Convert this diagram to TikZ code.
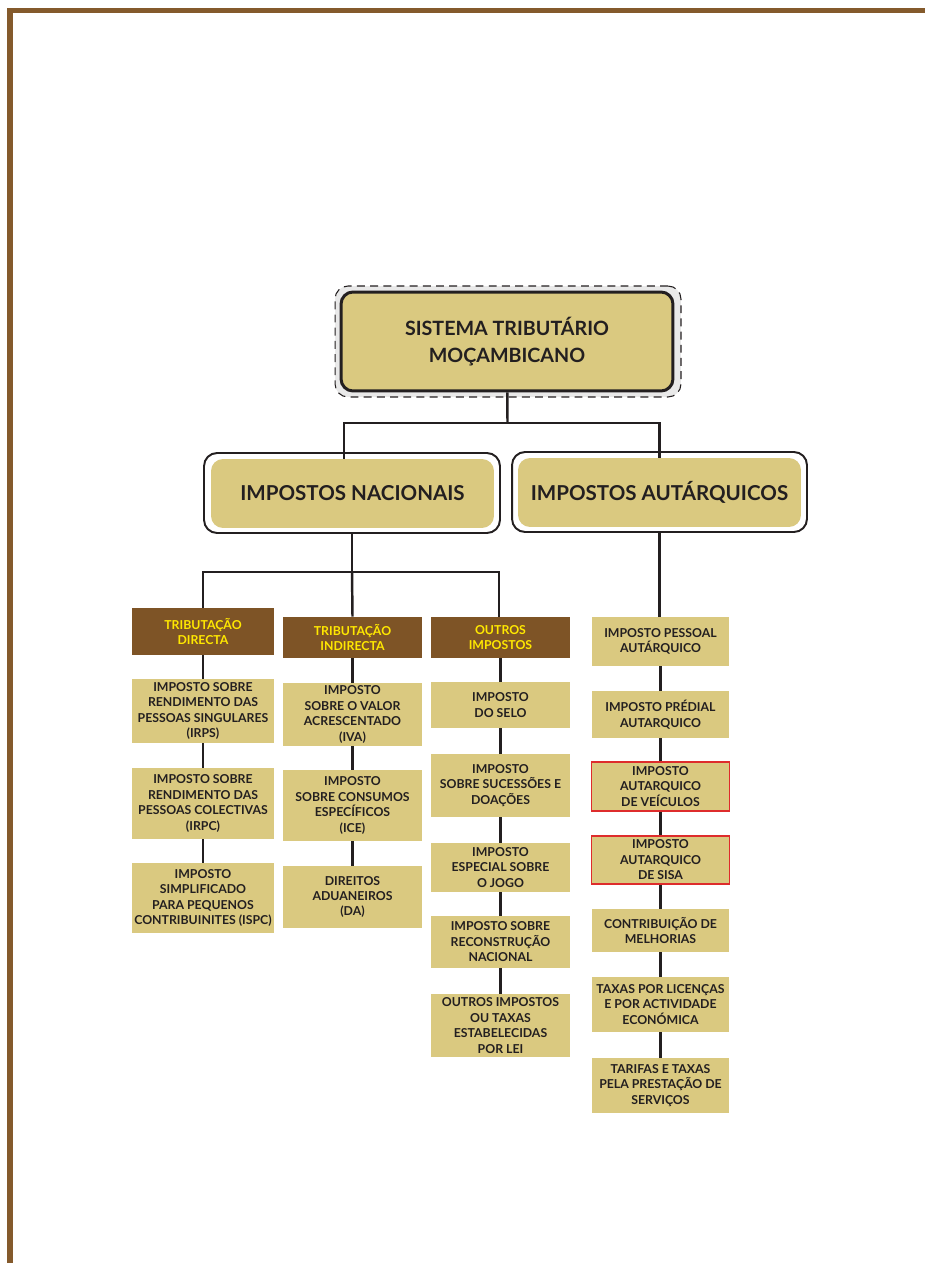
\documentclass[tikz,border=0pt]{standalone}
\usepackage{fontspec}
\setmainfont{Lato}
\usepackage{tikz}
\usetikzlibrary{arrows}
\definecolor{bege}{RGB}{218,201,128}
\definecolor{castanho}{RGB}{126,84,38}
\definecolor{borda}{RGB}{132,90,44}
\definecolor{amarelo}{RGB}{255,232,0}
\definecolor{escuro}{RGB}{35,31,32}
\definecolor{vermelho}{RGB}{222,44,44}
\definecolor{cinza}{RGB}{233,233,233}
\newcommand{\Letra}{\fontsize{7}{8.8}\selectfont\bfseries}
\newcommand{\Chefe}{\fontsize{11.7}{14}\selectfont\bfseries}

\begin{document}
\begin{tikzpicture}[x=0.02cm,y=-0.02cm,
    caixa/.style={fill=bege,text=escuro,font=\Letra,align=center,inner sep=1pt,minimum height=#1},
    caixa/.default=1cm,
    titulo/.style={fill=castanho,text=amarelo,font=\Letra,align=center,inner sep=1pt,minimum height=#1},
    titulo/.default=0.82cm,
    marca/.style={draw=vermelho,line width=0.6pt},
    moldura/.style={draw=escuro,line width=1.1pt,rounded corners=0.26cm},
    linha/.style={draw=escuro,line width=1.4pt},
    colA/.style={minimum width=2.84cm},
    colB/.style={minimum width=2.78cm},
    colC/.style={minimum width=2.78cm},
    colD/.style={minimum width=2.76cm}]
        % pagina
        \useasboundingbox (0,0) rectangle (925,1263);
        \fill[borda] (7,8) rectangle (925,13);
        \fill[borda] (7,8) rectangle (13,1263);

        % topo
        \node[fill=cinza,draw=escuro,line width=0.6pt,dash pattern=on 4.5pt off 3pt,rounded corners=0.26cm,minimum width=6.92cm,minimum height=2.22cm] (SistF) at (508,341.5) {};
        \node[fill=bege,draw=escuro,line width=1.7pt,rounded corners=0.24cm,minimum width=6.64cm,minimum height=1.98cm,text=escuro,align=center,font=\fontsize{11.2}{15.2}\selectfont\bfseries] (Sist) at (507,341.5) {SISTEMA TRIBUTÁRIO\\MOÇAMBICANO};

        \node[moldura,minimum width=5.92cm,minimum height=1.6cm] (NaciF) at (352,493) {};
        \node[fill=bege,rounded corners=0.24cm,minimum width=5.66cm,minimum height=1.38cm,text=escuro,font=\Chefe] (Naci) at (352.5,493.5) {IMPOSTOS NACIONAIS};
        \node[moldura,minimum width=5.9cm,minimum height=1.6cm] (AutaF) at (659.5,492) {};
        \node[fill=bege,rounded corners=0.24cm,minimum width=5.66cm,minimum height=1.38cm,text=escuro,font=\Chefe] (Auta) at (659.5,492.5) {IMPOSTOS AUTÁRQUICOS};

        % tributacao directa
        \node[titulo=0.94cm,colA] (TDir) at (203,631.5) {TRIBUTAÇÃO\\DIRECTA};
        \node[caixa=1.28cm,colA] (Irps) at (203,711) {IMPOSTO SOBRE\\RENDIMENTO DAS\\PESSOAS SINGULARES\\(IRPS)};
        \node[caixa=1.42cm,colA] (Irpc) at (203,803.5) {IMPOSTO SOBRE\\RENDIMENTO DAS\\PESSOAS COLECTIVAS\\(IRPC)};
        \node[caixa=1.40cm,colA] (Ispc) at (203,898) {IMPOSTO\\SIMPLIFICADO\\PARA PEQUENOS\\CONTRIBUINITES (ISPC)};

        % tributacao indirecta
        \node[titulo,colB] (TInd) at (352.5,637.5) {TRIBUTAÇÃO\\INDIRECTA};
        \node[caixa=1.26cm,colB] (Iva) at (352.5,714.5) {IMPOSTO\\SOBRE O VALOR\\ACRESCENTADO\\(IVA)};
        \node[caixa=1.42cm,colB] (Ice) at (352.5,805.5) {IMPOSTO\\SOBRE CONSUMOS\\ESPECÍFICOS\\(ICE)};
        \node[caixa=1.24cm,colB] (Da) at (352.5,897) {DIREITOS\\ADUANEIROS\\(DA)};

        % outros impostos
        \node[titulo,colC] (Outr) at (500.5,637.5) {OUTROS\\IMPOSTOS};
        \node[caixa=0.92cm,colC] (Selo) at (500.5,705) {IMPOSTO\\DO SELO};
        \node[caixa=1.26cm,colC] (Suce) at (500.5,785.5) {IMPOSTO\\SOBRE SUCESSÕES E\\DOAÇÕES};
        \node[caixa=0.98cm,colC] (Jogo) at (500.5,867.5) {IMPOSTO\\ESPECIAL SOBRE\\O JOGO};
        \node[caixa=1.04cm,colC] (Reco) at (500.5,942) {IMPOSTO SOBRE\\RECONSTRUÇÃO\\NACIONAL};
        \node[caixa=1.26cm,colC] (OLei) at (500.5,1025.5) {OUTROS IMPOSTOS\\OU TAXAS\\ESTABELECIDAS\\POR LEI};

        % autarquicos
        \node[caixa=0.98cm,colD] (Pess) at (660.5,641.5) {IMPOSTO PESSOAL\\AUTÁRQUICO};
        \node[caixa=0.94cm,colD] (Pred) at (660.5,714.5) {IMPOSTO PRÉDIAL\\AUTARQUICO};
        \node[caixa=0.98cm,colD,marca] (Veic) at (660.5,786.5) {IMPOSTO\\AUTARQUICO\\DE VEÍCULOS};
        \node[caixa=0.96cm,colD,marca] (Sisa) at (660.5,860) {IMPOSTO\\AUTARQUICO\\DE SISA};
        \node[caixa=0.86cm,colD] (Cont) at (660.5,930.5) {CONTRIBUIÇÃO DE\\MELHORIAS};
        \node[caixa=1.10cm,colD] (Taxa) at (660.5,1004.5) {TAXAS POR LICENÇAS\\E POR ACTIVIDADE\\ECONÓMICA};
        \node[caixa=1.10cm,colD] (Tari) at (660.5,1085.5) {TARIFAS E TAXAS\\PELA PRESTAÇÃO DE\\SERVIÇOS};

        % ligacoes
        \coordinate (SistR) at (507.5,423);
        \coordinate (NaciR) at (352,572);
        \draw[linha] (Sist) -- (SistR);
        \draw[linha] (SistR) -| ([xshift=-0.17cm]Naci.north);
        \draw[linha] (SistR) -| (Auta.north);
        \draw[linha] (NaciF.south) -- (NaciR);
        \draw[linha] (NaciR) -| (TDir.north);
        \draw[linha] (NaciR) -| ([xshift=-0.03cm]Outr.north);
        \draw[linha] (NaciR) -- (TInd.north);
        \draw[linha] (TDir) edge (Irps) (Irps) edge (Irpc) (Irpc) edge (Ispc);
        \draw[linha] (TInd) edge (Iva) (Iva) edge (Ice) (Ice) edge (Da);
        \draw[linha] (Outr) edge (Selo) (Selo) edge (Suce) (Suce) edge (Jogo) (Jogo) edge (Reco) (Reco) edge (OLei);
        \draw[linha] (AutaF.south) -- (AutaF.south |- Pess.north);
        \draw[linha] (Pess) edge (Pred) (Pred) edge (Veic) (Veic) edge (Sisa) (Sisa) edge (Cont) (Cont) edge (Taxa) (Taxa) edge (Tari);
\end{tikzpicture}
\end{document}
